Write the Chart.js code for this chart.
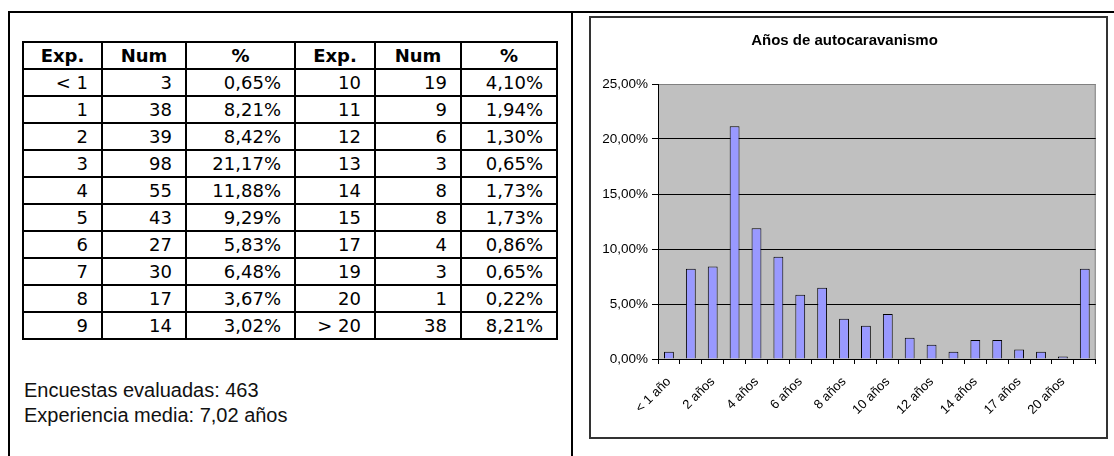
<html>
<head>
    <title>Años de autocaravanismo</title>
    <style>
        body { margin: 0; background: #fff; width: 1114px; height: 456px; overflow: hidden; position: relative; }
        #marco { position: absolute; left: 8px; top: 11px; width: 1200px; height: 600px; border: 2px solid #000; }
        #divisor { position: absolute; left: 571px; top: 11px; width: 2px; height: 500px; background: #000; }
        #tabla { position: absolute; left: 22px; top: 41px; border-collapse: collapse; border: 2px solid #000;
                 font-family: "DejaVu Sans", Tahoma, sans-serif; font-size: 18px; color: #000; }
        #tabla td, #tabla th { border: 2px solid #000; height: 25.3px; padding: 0 13px 0 4px; text-align: right; line-height: 25px; }
        #tabla th { text-align: center; padding: 0; font-weight: bold; }
        #resumen { position: absolute; left: 24px; top: 378px; font-family: Arial, "Liberation Sans", sans-serif;
                   font-size: 20px; line-height: 25px; color: #111; }
        #cajaGrafico { position: absolute; left: 589px; top: 16px; width: 519px; height: 423px; border: 2px solid #333; box-sizing: border-box; }
        #zonaGrafico { position: absolute; left: 591px; top: 18px; width: 515px; height: 419px; }
    </style>
</head>
<body>
    <div id="marco"></div>
    <div id="divisor"></div>

    <table id="tabla">
        <colgroup>
            <col style="width:79px"><col style="width:84px"><col style="width:109px">
            <col style="width:80px"><col style="width:86px"><col style="width:96px">
        </colgroup>
        <thead>
            <tr><th>Exp.</th><th>Num</th><th>%</th><th>Exp.</th><th>Num</th><th>%</th></tr>
        </thead>
        <tbody id="cuerpoTabla"></tbody>
    </table>

    <div id="resumen">
        Encuestas evaluadas: 463<br>
        Experiencia media: 7,02 años
    </div>

    <div id="cajaGrafico"></div>
    <div id="zonaGrafico">
        <canvas id="graficoAnios"></canvas>
    </div>

    <script src="https://cdn.jsdelivr.net/npm/chart.js"></script>

    <script>
        // Datos de la tabla (años de experiencia, número de encuestas, porcentaje)
        const experiencia = ['< 1', '1', '2', '3', '4', '5', '6', '7', '8', '9',
                             '10', '11', '12', '13', '14', '15', '17', '19', '20', '> 20'];
        const numEncuestas = [3, 38, 39, 98, 55, 43, 27, 30, 17, 14,
                              19, 9, 6, 3, 8, 8, 4, 3, 1, 38];
        const porcentajes = [0.65, 8.21, 8.42, 21.17, 11.88, 9.29, 5.83, 6.48, 3.67, 3.02,
                             4.10, 1.94, 1.30, 0.65, 1.73, 1.73, 0.86, 0.65, 0.22, 8.21];

        // Etiquetas del eje X del gráfico
        const categorias = ['< 1 año', '1 año', '2 años', '3 años', '4 años', '5 años', '6 años', '7 años',
                            '8 años', '9 años', '10 años', '11 años', '12 años', '13 años', '14 años',
                            '15 años', '17 años', '19 años', '20 años', '> 20 años'];
        const ticksY = [0, 5, 10, 15, 20, 25];

        const fuente = 'Arial, "Liberation Sans", sans-serif';

        function formatoPct(v) {
            return v.toFixed(2).replace('.', ',') + '%';
        }

        // Construir la tabla en dos mitades
        const cuerpo = document.getElementById('cuerpoTabla');
        for (let i = 0; i < 10; i++) {
            const fila = document.createElement('tr');
            [i, i + 10].forEach(function (k) {
                [experiencia[k], numEncuestas[k], formatoPct(porcentajes[k])].forEach(function (txt) {
                    const td = document.createElement('td');
                    td.textContent = txt;
                    fila.appendChild(td);
                });
            });
            cuerpo.appendChild(fila);
        }

        // Fondo gris del área de trazado
        const fondoGris = {
            id: 'fondoGris',
            beforeDraw(chart) {
                const a = chart.chartArea;
                const c = chart.ctx;
                c.save();
                c.fillStyle = '#C0C0C0';
                c.fillRect(a.left, a.top, a.right - a.left, a.bottom - a.top);
                c.strokeStyle = '#808080';
                c.lineWidth = 1;
                c.strokeRect(a.left + 0.5, a.top + 0.5, a.right - a.left - 1, a.bottom - a.top);
                c.restore();
            }
        };

        const ctx = document.getElementById('graficoAnios').getContext('2d');
        const grafico = new Chart(ctx, {
            type: 'bar',
            data: {
                labels: categorias,
                datasets: [{
                    data: porcentajes,
                    backgroundColor: '#9999FF',
                    borderColor: '#000000',
                    borderWidth: 1,
                    barPercentage: 0.45,
                    categoryPercentage: 1
                }]
            },
            plugins: [fondoGris],
            options: {
                responsive: true,
                maintainAspectRatio: false,
                animation: false,
                layout: { padding: { top: 14, right: 8, left: 0, bottom: 0 } },
                plugins: {
                    legend: { display: false },
                    tooltip: { enabled: false },
                    title: {
                        display: true,
                        text: 'Años de autocaravanismo',
                        color: '#000',
                        font: { family: fuente, size: 15, weight: 'bold' },
                        padding: { top: 0, bottom: 34 }
                    }
                },
                scales: {
                    x: {
                        afterFit(s) { s.height = 78; },
                        grid: {
                            display: true,
                            drawOnChartArea: false,
                            drawTicks: true,
                            tickLength: 5,
                            tickColor: '#000',
                            offset: true
                        },
                        border: { display: true, color: '#000', width: 1 },
                        ticks: {
                            color: '#000',
                            font: { family: fuente, size: 13 },
                            autoSkip: false,
                            minRotation: 45,
                            maxRotation: 45,
                            padding: 10,
                            callback: function (v, i) { return i % 2 === 0 ? categorias[i] : ''; }
                        }
                    },
                    y: {
                        afterFit(s) { s.width = 67; },
                        min: ticksY[0],
                        max: ticksY[ticksY.length - 1],
                        afterBuildTicks(s) { s.ticks = ticksY.map(function (v) { return { value: v }; }); },
                        grid: {
                            color: function (c) { return c.tick && c.tick.value === 25 ? '#808080' : '#000'; },
                            tickLength: 6,
                            tickColor: '#000',
                            lineWidth: 1
                        },
                        border: { display: true, color: '#000', width: 1 },
                        ticks: {
                            color: '#000',
                            font: { family: fuente, size: 13.5 },
                            padding: 4,
                            callback: function (v) { return formatoPct(v); }
                        }
                    }
                }
            }
        });
    </script>
</body>
</html>
